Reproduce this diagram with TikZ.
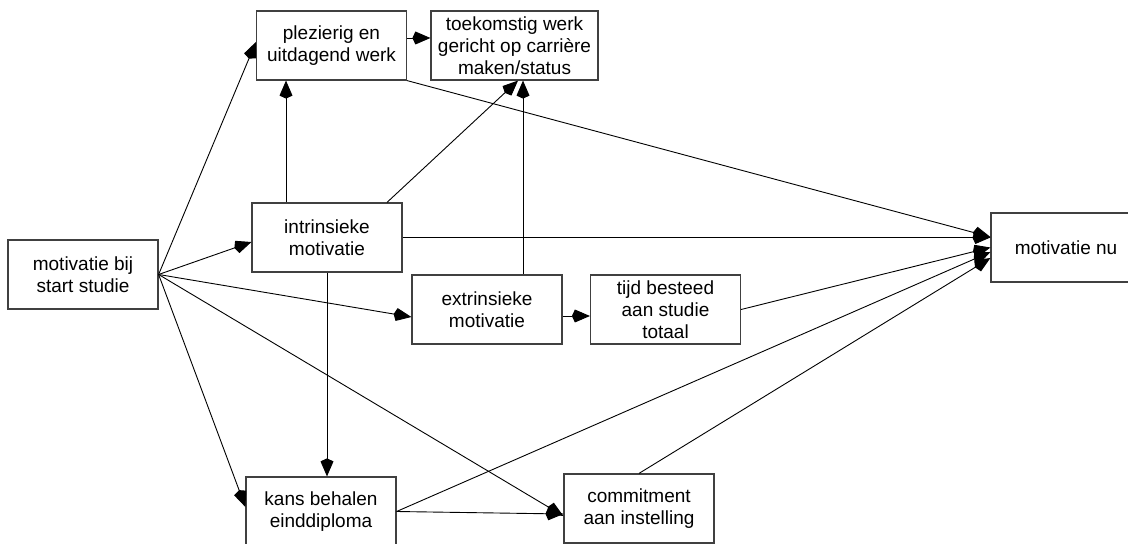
\documentclass[tikz,border=0pt]{standalone}
\usepackage{fontspec}
\setmainfont{Liberation Sans}
\usetikzlibrary{arrows.meta}
\begin{document}
\begin{tikzpicture}[x=0.5pt,y=-0.5pt,
  box/.style={draw=black!75,line width=0.6pt,minimum width=75pt,minimum height=34.5pt,inner sep=1pt,align=center,font=\fontsize{9.5}{11}\selectfont},
  pijl/.style={-{Kite[length=9pt,width=6.5pt,inset=1.5pt]},line width=0.45pt}]
\useasboundingbox (0,0) rectangle (1128,544);
\node[box] (bij) at (83,274.5) {motivatie bij\\start studie};
\node[box] (plez) at (331.5,45.5) {plezierig en\\uitdagend werk};
\node[box,minimum width=83.5pt] (toek) at (514.5,45.5) {toekomstig werk\\gericht op carrière\\maken/status};
\node[box] (intr) at (327,237.5) {intrinsieke\\motivatie};
\node[box] (extr) at (487,309.5) {extrinsieke\\motivatie};
\node[box] (tijd) at (665.5,309.5) {tijd besteed\\aan studie\\totaal};
\node[box] (kans) at (321,511.5) {kans behalen\\einddiploma};
\node[box] (comm) at (639,508.5) {commitment\\aan instelling};
\node[box] (nu) at (1066,247.5) {motivatie nu};
\draw[pijl] (bij.east) -- ([yshift=1.75pt]plez.west);
\draw[pijl] (bij.east) -- ([yshift=-2.25pt]intr.west);
\draw[pijl] (bij.east) -- ([yshift=-3.75pt]extr.west);
\draw[pijl] (bij.east) -- ([yshift=-3.75pt]comm.west);
\draw[pijl] (bij.east) -- ([yshift=2.25pt]kans.west);
\draw[pijl] ([xshift=-20.5pt]intr.north) -- ([xshift=-20.5pt]intr.north |- plez.south);
\draw[pijl] ([xshift=30pt]intr.north) -- ([xshift=1.75pt]toek.south);
\draw[pijl] (intr.east) -- (intr.east -| nu.west);
\draw[pijl] (intr.south) -- (intr.south |- kans.north);
\draw[pijl] ([yshift=3.75pt]plez.east) -- ([yshift=3.75pt]plez.east -| toek.west);
\draw[pijl] (plez.south east) -- ([yshift=5.25pt]nu.west);
\draw[pijl] ([xshift=18pt]extr.north) -- ([xshift=18pt]extr.north |- toek.south);
\draw[pijl] ([yshift=-3.25pt]extr.east) -- ([yshift=-3.25pt]extr.east -| tijd.west);
\draw[pijl] (tijd.east) -- (nu.west);
\draw[pijl] (kans.east) -- ([yshift=-2.25pt]nu.west);
\draw[pijl] (kans.east) -- ([yshift=-2.75pt]comm.west);
\draw[pijl] (comm.north) -- ([yshift=-5.25pt]nu.west);
\end{tikzpicture}
\end{document}
